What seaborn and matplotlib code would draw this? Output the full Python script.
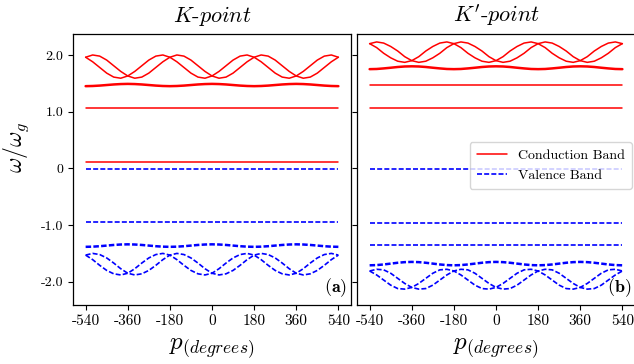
import matplotlib
matplotlib.use("Agg")
import matplotlib.pyplot as plt
import seaborn as sns

# ---------------- data ----------------
p_deg = list(range(-540, 541, 30))
flat_x = [-540, 540]

# K-point (left) conduction bands
k_cond_flat = [0.12, 1.06]
k_cond_wiggle = [1.450, 1.453, 1.460, 1.470, 1.480, 1.487, 1.490, 1.487, 1.480, 1.470, 1.460, 1.453,
                 1.450, 1.453, 1.460, 1.470, 1.480, 1.487, 1.490, 1.487, 1.480, 1.470, 1.460, 1.453,
                 1.450, 1.453, 1.460, 1.470, 1.480, 1.487, 1.490, 1.487, 1.480, 1.470, 1.460, 1.453,
                 1.450]
k_cond_osc1 = [1.96, 1.88, 1.78, 1.68, 1.61, 1.59, 1.63, 1.71, 1.81, 1.91, 1.98, 2.00,
               1.96, 1.88, 1.78, 1.68, 1.61, 1.59, 1.63, 1.71, 1.81, 1.91, 1.98, 2.00,
               1.96, 1.88, 1.78, 1.68, 1.61, 1.59, 1.63, 1.71, 1.81, 1.91, 1.98, 2.00,
               1.96]
k_cond_osc2 = [1.96, 2.00, 1.98, 1.91, 1.81, 1.71, 1.63, 1.59, 1.61, 1.68, 1.78, 1.88,
               1.96, 2.00, 1.98, 1.91, 1.81, 1.71, 1.63, 1.59, 1.61, 1.68, 1.78, 1.88,
               1.96, 2.00, 1.98, 1.91, 1.81, 1.71, 1.63, 1.59, 1.61, 1.68, 1.78, 1.88,
               1.96]
# K-point valence bands
k_val_flat = [-0.01, -0.95]
k_val_wiggle = [-1.384, -1.381, -1.373, -1.362, -1.351, -1.343, -1.340, -1.343, -1.351, -1.362, -1.373, -1.381,
                -1.384, -1.381, -1.373, -1.362, -1.351, -1.343, -1.340, -1.343, -1.351, -1.362, -1.373, -1.381,
                -1.384, -1.381, -1.373, -1.362, -1.351, -1.343, -1.340, -1.343, -1.351, -1.362, -1.373, -1.381,
                -1.384]
k_val_osc1 = [-1.53, -1.61, -1.71, -1.80, -1.86, -1.88, -1.85, -1.77, -1.67, -1.58, -1.52, -1.50,
              -1.53, -1.61, -1.71, -1.80, -1.86, -1.88, -1.85, -1.77, -1.67, -1.58, -1.52, -1.50,
              -1.53, -1.61, -1.71, -1.80, -1.86, -1.88, -1.85, -1.77, -1.67, -1.58, -1.52, -1.50,
              -1.53]
k_val_osc2 = [-1.53, -1.50, -1.52, -1.58, -1.67, -1.77, -1.85, -1.88, -1.86, -1.80, -1.71, -1.61,
              -1.53, -1.50, -1.52, -1.58, -1.67, -1.77, -1.85, -1.88, -1.86, -1.80, -1.71, -1.61,
              -1.53, -1.50, -1.52, -1.58, -1.67, -1.77, -1.85, -1.88, -1.86, -1.80, -1.71, -1.61,
              -1.53]

# K'-point (right) conduction bands
kp_cond_flat = [1.06, 1.47]
kp_cond_wiggle = [1.750, 1.753, 1.763, 1.775, 1.788, 1.797, 1.800, 1.797, 1.788, 1.775, 1.763, 1.753,
                  1.750, 1.753, 1.763, 1.775, 1.788, 1.797, 1.800, 1.797, 1.788, 1.775, 1.763, 1.753,
                  1.750, 1.753, 1.763, 1.775, 1.788, 1.797, 1.800, 1.797, 1.788, 1.775, 1.763, 1.753,
                  1.750]
kp_cond_osc1 = [2.20, 2.13, 2.03, 1.95, 1.89, 1.87, 1.90, 1.97, 2.07, 2.15, 2.21, 2.23,
                2.20, 2.13, 2.03, 1.95, 1.89, 1.87, 1.90, 1.97, 2.07, 2.15, 2.21, 2.23,
                2.20, 2.13, 2.03, 1.95, 1.89, 1.87, 1.90, 1.97, 2.07, 2.15, 2.21, 2.23,
                2.20]
kp_cond_osc2 = [2.20, 2.23, 2.21, 2.15, 2.07, 1.97, 1.90, 1.87, 1.89, 1.95, 2.03, 2.13,
                2.20, 2.23, 2.21, 2.15, 2.07, 1.97, 1.90, 1.87, 1.89, 1.95, 2.03, 2.13,
                2.20, 2.23, 2.21, 2.15, 2.07, 1.97, 1.90, 1.87, 1.89, 1.95, 2.03, 2.13,
                2.20]
# K'-point valence bands
kp_val_flat = [-0.01, -0.96, -1.36]
kp_val_wiggle = [-1.710, -1.706, -1.695, -1.680, -1.665, -1.654, -1.650, -1.654, -1.665, -1.680, -1.695, -1.706,
                 -1.710, -1.706, -1.695, -1.680, -1.665, -1.654, -1.650, -1.654, -1.665, -1.680, -1.695, -1.706,
                 -1.710, -1.706, -1.695, -1.680, -1.665, -1.654, -1.650, -1.654, -1.665, -1.680, -1.695, -1.706,
                 -1.710]
kp_val_osc1 = [-1.81, -1.88, -1.97, -2.06, -2.12, -2.13, -2.10, -2.03, -1.94, -1.85, -1.79, -1.78,
               -1.81, -1.88, -1.97, -2.06, -2.12, -2.13, -2.10, -2.03, -1.94, -1.85, -1.79, -1.78,
               -1.81, -1.88, -1.97, -2.06, -2.12, -2.13, -2.10, -2.03, -1.94, -1.85, -1.79, -1.78,
               -1.81]
kp_val_osc2 = [-1.81, -1.78, -1.79, -1.85, -1.94, -2.03, -2.10, -2.13, -2.12, -2.06, -1.97, -1.88,
               -1.81, -1.78, -1.79, -1.85, -1.94, -2.03, -2.10, -2.13, -2.12, -2.06, -1.97, -1.88,
               -1.81, -1.78, -1.79, -1.85, -1.94, -2.03, -2.10, -2.13, -2.12, -2.06, -1.97, -1.88,
               -1.81]

xtick_vals = [-540, -360, -180, 0, 180, 360, 540]
xtick_labels = ["-540", "-360", "-180", "0", "180", "360", "540"]
ytick_vals = [-2.0, -1.0, 0.0, 1.0, 2.0]
ytick_labels = ["-2.0", "-1.0", "0", "1.0", "2.0"]
titles = [r"$K$-$point$", r"$K'$-$point$"]
panel_tags = [r"$\mathbf{(a)}$", r"$\mathbf{(b)}$"]
legend_labels = ["Conduction Band", "Valence Band"]

# ---------------- style ----------------
sns.set_theme(style="ticks")
plt.rcParams.update({
    "font.family": ["cmr10", "DejaVu Serif"],
    "mathtext.fontset": "cm",
    "axes.unicode_minus": False,
    "axes.formatter.use_mathtext": True,
    "axes.edgecolor": "black",
    "axes.linewidth": 0.9,
    "xtick.color": "black",
    "ytick.color": "black",
    "xtick.major.size": 3.5,
    "ytick.major.size": 3.5,
    "xtick.major.width": 0.8,
    "ytick.major.width": 0.8,
    "text.color": "black",
    "axes.labelcolor": "black",
})

RED = "#ff0000"
BLUE = "#0000ff"
SOLID_LW = 1.1
THICK_LW = 1.8
DASH = (0, (3.0, 1.3))
DASH_THICK = (0, (2.2, 0.9))

fig = plt.figure(figsize=(6.34, 3.64), dpi=100)
axL = fig.add_axes([73 / 634, 59 / 364, 278 / 634, 271 / 364])
axR = fig.add_axes([357 / 634, 59 / 364, 278 / 634, 271 / 364], sharey=axL)


def line(ax, x, y, color, ls, lw):
    sns.lineplot(x=x, y=y, ax=ax, color=color, linestyle=ls, linewidth=lw,
                 legend=False, sort=False, estimator=None)


def draw_panel(ax, cflat, cwig, cosc, vflat, vwig, vosc):
    for v in cflat:
        line(ax, flat_x, [v, v], RED, "-", SOLID_LW)
    line(ax, p_deg, cwig, RED, "-", THICK_LW)
    for c in cosc:
        line(ax, p_deg, c, RED, "-", SOLID_LW)
    for v in vflat:
        line(ax, flat_x, [v, v], BLUE, DASH, 1.2)
    line(ax, p_deg, vwig, BLUE, DASH_THICK, THICK_LW)
    for c in vosc:
        line(ax, p_deg, c, BLUE, DASH, 1.2)


draw_panel(axL, k_cond_flat, k_cond_wiggle, [k_cond_osc1, k_cond_osc2],
           k_val_flat, k_val_wiggle, [k_val_osc1, k_val_osc2])
draw_panel(axR, kp_cond_flat, kp_cond_wiggle, [kp_cond_osc1, kp_cond_osc2],
           kp_val_flat, kp_val_wiggle, [kp_val_osc1, kp_val_osc2])

for i, ax in enumerate([axL, axR]):
    ax.set_xlim(-594, 594)
    ax.set_ylim(-2.41, 2.37)
    ax.set_xticks(xtick_vals)
    ax.set_xticklabels(xtick_labels, fontsize=11)
    ax.set_title(titles[i], fontsize=16, pad=9)
    ax.set_xlabel(r"$p_{(degrees)}$", fontsize=18, labelpad=6)
    for s in ax.spines.values():
        s.set_visible(True)
        s.set_color("black")

axL.set_yticks(ytick_vals)
axL.set_yticklabels(ytick_labels, fontsize=10)
axL.set_ylabel(r"$\omega/\omega_g$", fontsize=17)
axL.yaxis.set_label_coords(-0.152, 0.58)
axR.tick_params(axis="y", labelleft=False)

axL.text(0.985, 0.022, panel_tags[0], transform=axL.transAxes,
         ha="right", va="bottom", fontsize=13)
axR.text(0.985, 0.022, panel_tags[1], transform=axR.transAxes,
         ha="right", va="bottom", fontsize=13)

# legend built from the drawn lines of the right panel
lines = axR.get_lines()
red_handle = lines[0]
blue_handle = [l for l in lines if l.get_color() == BLUE][0]
axR.legend([red_handle, blue_handle], legend_labels, loc="upper right",
           bbox_to_anchor=(0.99, 0.60), borderaxespad=0, fontsize=10,
           frameon=True, handlelength=2.2, borderpad=0.5, labelspacing=0.5)

fig.savefig("out.png", dpi=100)
